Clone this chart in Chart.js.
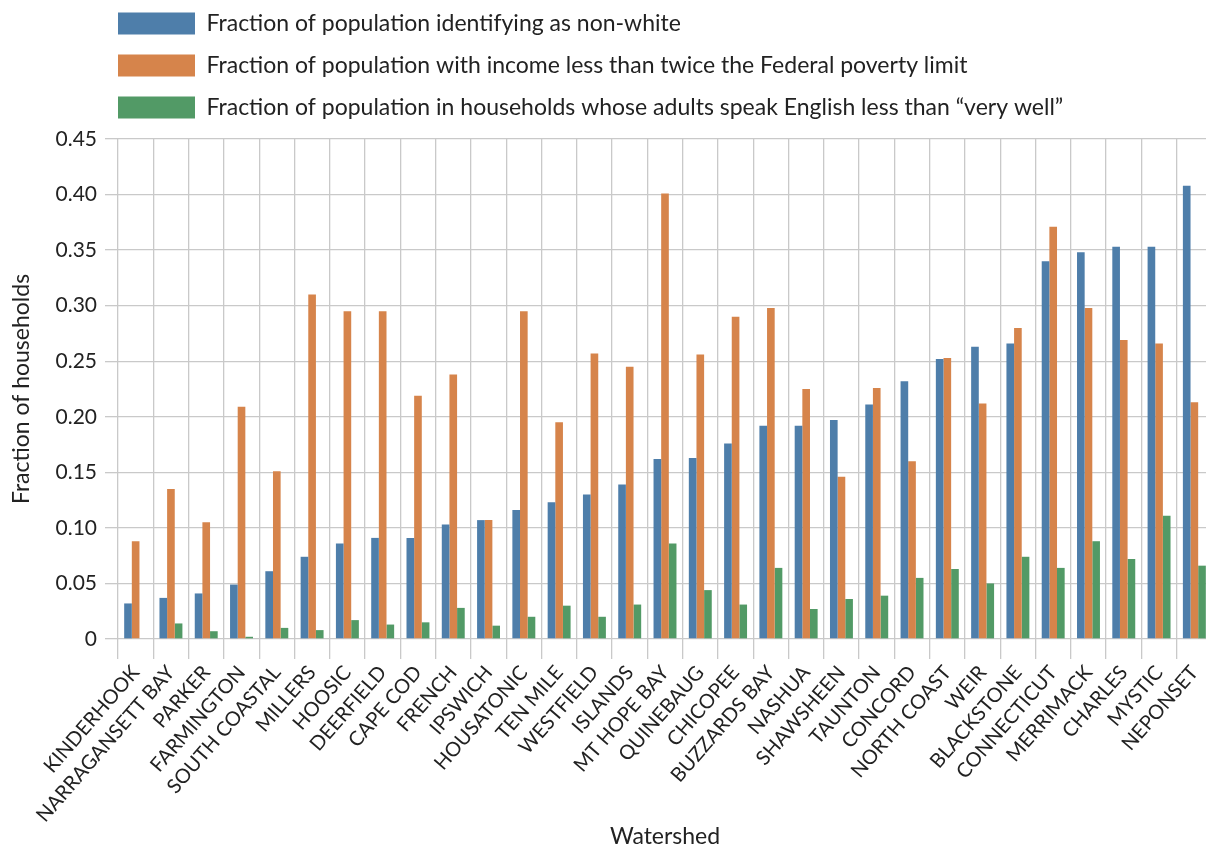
<!DOCTYPE html>
<html>
<head>
<meta charset="utf-8">
<script src="https://cdn.jsdelivr.net/npm/chart.js@4"></script>
<style>
  html, body { margin: 0; padding: 0; background: #fff; overflow: hidden; }
  #wrap { position: relative; width: 1224px; height: 850px; }
</style>
</head>
<body>
<div id="wrap"><canvas id="myChart"></canvas></div>
<script>
// watershed names, left to right
const watersheds = ['KINDERHOOK', 'NARRAGANSETT BAY', 'PARKER', 'FARMINGTON', 'SOUTH COASTAL', 'MILLERS',
  'HOOSIC', 'DEERFIELD', 'CAPE COD', 'FRENCH', 'IPSWICH', 'HOUSATONIC', 'TEN MILE', 'WESTFIELD', 'ISLANDS',
  'MT HOPE BAY', 'QUINEBAUG', 'CHICOPEE', 'BUZZARDS BAY', 'NASHUA', 'SHAWSHEEN', 'TAUNTON', 'CONCORD',
  'NORTH COAST', 'WEIR', 'BLACKSTONE', 'CONNECTICUT', 'MERRIMACK', 'CHARLES', 'MYSTIC', 'NEPONSET'];

const nonWhite = [0.032, 0.037, 0.041, 0.049, 0.061, 0.074, 0.086, 0.091, 0.091, 0.103, 0.107, 0.116, 0.123,
  0.130, 0.139, 0.162, 0.163, 0.176, 0.192, 0.192, 0.197, 0.211, 0.232, 0.252, 0.263, 0.266, 0.340, 0.348,
  0.353, 0.353, 0.408];
const lowIncome = [0.088, 0.135, 0.105, 0.209, 0.151, 0.310, 0.295, 0.295, 0.219, 0.238, 0.107, 0.295, 0.195,
  0.257, 0.245, 0.401, 0.256, 0.290, 0.298, 0.225, 0.146, 0.226, 0.160, 0.253, 0.212, 0.280, 0.371, 0.298,
  0.269, 0.266, 0.213];
const limitedEnglish = [0.000, 0.014, 0.007, 0.002, 0.010, 0.008, 0.017, 0.013, 0.015, 0.028, 0.012, 0.020,
  0.030, 0.020, 0.031, 0.086, 0.044, 0.031, 0.064, 0.027, 0.036, 0.039, 0.055, 0.063, 0.050, 0.074, 0.064,
  0.088, 0.072, 0.111, 0.066];

const yTicks = [0, 0.05, 0.10, 0.15, 0.20, 0.25, 0.30, 0.35, 0.40, 0.45];

const FONT = 'Lato, "Open Sans", sans-serif';
const TEXT = '#222222';
const GRID = '#c9c9c9';

// move the legend so its boxes line up with the plot's left edge
const legendShift = {
  id: 'legendShift',
  afterLayout(chart) {
    const lg = chart.legend;
    lg.left += 99; lg.right += 99;
    lg.top -= 10; lg.bottom -= 10;
  }
};

const ctx = document.getElementById('myChart');

new Chart(ctx, {
  type: 'bar',
  data: {
    labels: watersheds,
    datasets: [{
        label: 'Fraction of population identifying as non-white',
        data: nonWhite,
        backgroundColor: '#4e7eaa'
      },
      {
        label: 'Fraction of population with income less than twice the Federal poverty limit',
        data: lowIncome,
        backgroundColor: '#d6844b'
      },
      {
        label: 'Fraction of population in households whose adults speak English less than \u201cvery well\u201d',
        data: limitedEnglish,
        backgroundColor: '#529a66'
      }]
  },
  options: {
    responsive: true,
    maintainAspectRatio: false,
    animation: false,
    layout: { padding: { top: 3, left: 0, right: 12, bottom: 0 } },
    datasets: { bar: { categoryPercentage: 0.65, barPercentage: 1.0 } },
    plugins: {
      tooltip: { enabled: false },
      legend: {
        position: 'top',
        align: 'start',
        labels: {
          boxWidth: 77,
          boxHeight: 22,
          padding: 19,
          color: TEXT,
          font: { family: FONT, size: 23 }
        }
      }
    },
    scales: {
      x: {
        afterFit: s => { s.height = 211; },
        grid: { color: GRID, lineWidth: 1.3, offset: true, tickLength: 20, tickColor: GRID },
        border: { display: false },
        ticks: {
          autoSkip: false, minRotation: 49, maxRotation: 49, padding: 2,
          color: TEXT, font: { family: FONT, size: 20 }
        },
        title: {
          display: true, text: 'Watershed', color: TEXT,
          font: { family: FONT, size: 23 }, padding: { top: 0, bottom: 0 }
        }
      },
      y: {
        min: 0,
        max: 0.45,
        afterFit: s => { s.width = 118; },
        afterBuildTicks: s => { s.ticks = yTicks.map(v => ({ value: v })); },
        grid: { color: GRID, lineWidth: 1.3, tickLength: 13, tickColor: GRID },
        border: { display: false },
        ticks: {
          padding: 8, color: TEXT, font: { family: FONT, size: 21 },
          callback: v => v === 0 ? '0' : v.toFixed(2)
        },
        title: {
          display: true, text: 'Fraction of households', color: TEXT,
          font: { family: FONT, size: 23 }, padding: { top: 8, bottom: 0 }
        }
      }
    }
  },
  plugins: [legendShift]
});
</script>
</body>
</html>
